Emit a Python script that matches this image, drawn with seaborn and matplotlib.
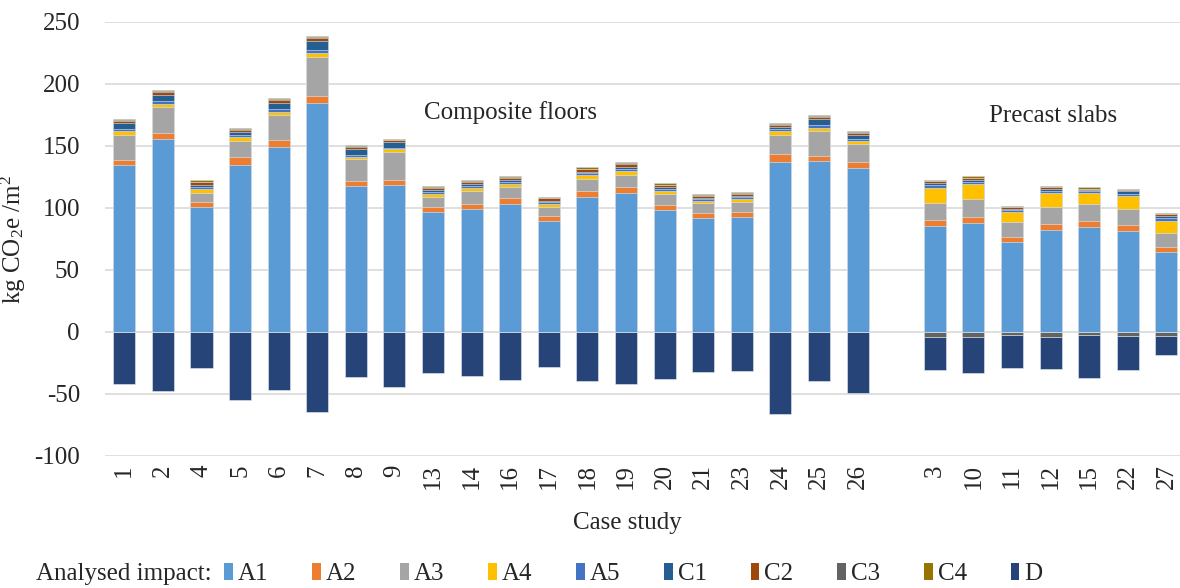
import numpy as np
import pandas as pd
import seaborn as sns
import matplotlib
matplotlib.use("Agg")
import matplotlib.pyplot as plt
from matplotlib.patches import Patch

# Case studies, grouped by floor system
composite_cases = ["1", "2", "4", "5", "6", "7", "8", "9", "13", "14", "16", "17",
                   "18", "19", "20", "21", "23", "24", "25", "26"]
precast_cases = ["3", "10", "11", "12", "15", "22", "27"]
cases = composite_cases + precast_cases

stages = ["A1", "A2", "A3", "A4", "A5", "C1", "C2", "C3", "C4", "D"]
stage_colors = ["#5B9BD5", "#ED7D31", "#A5A5A5", "#FFC000", "#4472C4",
                "#255E91", "#9E480E", "#636363", "#997300", "#264478"]

# kg CO2e/m2 per life-cycle module (composite floors, then precast slabs)
A1 = [134.4, 155.4, 101.1, 134.9, 149.2, 184.7, 118.0, 118.8, 97.0, 99.5, 103.2, 89.8,
      109.1, 111.8, 98.1, 92.2, 93.0, 137.1, 137.7, 132.3,
      85.2, 87.9, 72.3, 82.0, 84.4, 81.2, 64.4]
A2 = [4.3, 4.8, 4.0, 6.2, 5.6, 5.6, 3.5, 3.8, 4.1, 4.0, 4.9, 3.7, 4.6, 5.1, 4.3, 4.0,
      4.0, 6.4, 4.2, 5.1,
      5.1, 5.1, 4.1, 4.8, 4.9, 4.8, 4.3]
A3 = [20.2, 21.0, 7.3, 12.9, 20.0, 31.2, 17.7, 22.6, 8.0, 10.5, 9.1, 7.6, 9.7, 9.7,
      8.9, 7.6, 8.1, 15.6, 19.9, 14.2,
      14.0, 14.5, 12.1, 14.0, 13.7, 13.4, 11.3]
A4 = [2.9, 2.7, 2.9, 3.3, 2.6, 3.2, 2.2, 2.1, 2.4, 2.4, 2.4, 2.1, 3.0, 3.0, 2.4, 1.8,
      2.2, 3.0, 2.7, 2.4,
      12.1, 12.1, 8.5, 11.3, 9.1, 10.3, 9.9]
A5 = [1.9, 2.4, 1.9, 1.8, 2.2, 2.7, 1.6, 0.8, 1.6, 1.6, 1.6, 1.6, 1.6, 2.1, 1.6, 1.4,
      1.6, 1.8, 2.4, 1.9,
      1.9, 1.6, 1.4, 1.8, 1.4, 1.6, 1.9]
C1 = [4.6, 4.6, 1.6, 1.9, 5.3, 7.5, 4.3, 5.4, 1.4, 1.4, 1.4, 1.1, 1.3, 1.4, 1.4, 1.3,
      0.8, 1.4, 4.9, 2.7,
      1.6, 1.4, 1.1, 1.4, 1.0, 2.2, 1.6]
C2 = [1.9, 2.6, 1.9, 1.9, 2.2, 2.5, 1.9, 1.3, 1.9, 1.6, 1.8, 1.9, 1.9, 2.1, 1.6, 1.6,
      1.8, 1.9, 1.8, 2.1,
      1.6, 1.4, 1.1, 1.6, 1.1, 1.3, 1.4]
C3 = [0.6, 0.6, 0.6, 0.6, 0.6, 0.5, 0.5, 0.3, 0.6, 0.6, 0.6, 0.5, 0.6, 0.7, 0.6, 0.6,
      0.6, 0.6, 0.5, 0.6,
      -3.7, -3.7, -2.7, -3.7, -2.7, -3.2, -3.5]
C4 = [0.7, 0.8, 1.0, 1.2, 1.0, 0.8, 0.8, 0.5, 1.0, 1.0, 0.8, 0.8, 1.0, 1.2, 1.0, 1.0,
      1.0, 1.0, 0.7, 1.0,
      1.1, 1.6, 0.8, 1.1, 1.1, 0.8, 0.8]
D = [-42.3, -47.4, -29.4, -55.0, -46.9, -64.7, -35.9, -44.2, -32.9, -35.1, -38.6,
     -28.4, -39.9, -42.3, -37.5, -32.1, -31.6, -66.0, -39.7, -49.1,
     -26.7, -29.3, -26.6, -26.4, -34.7, -27.7, -15.2]

values = np.array([A1, A2, A3, A4, A5, C1, C2, C3, C4, D])

# empty slot separates the two groups
order = composite_cases + [""] + precast_cases

sns.set_theme(style="white")
plt.rcParams["font.family"] = ["Liberation Serif", "DejaVu Serif"]
plt.rcParams["mathtext.fontset"] = "custom"
plt.rcParams["mathtext.rm"] = "Liberation Serif"
plt.rcParams["mathtext.it"] = "Liberation Serif:italic"
plt.rcParams["axes.unicode_minus"] = False

FS = 18

fig = plt.figure(figsize=(11.8, 5.88), dpi=100)
ax = fig.add_axes([105 / 1180, 132 / 588, 1 - 105 / 1180, (566 - 132) / 588])

# stacked bars: positive and negative parts accumulated separately,
# drawn from the outermost layer inwards so inner layers overlay
pos_cum = np.cumsum(np.clip(values, 0, None), axis=0)
neg_cum = np.cumsum(np.clip(values, None, 0), axis=0)
for i in range(len(stages) - 1, -1, -1):
    for cum in (pos_cum[i], neg_cum[i]):
        if not np.any(cum != 0):
            continue
        df = pd.DataFrame({"case": cases, "value": cum})
        sns.barplot(data=df, x="case", y="value", order=order, color=stage_colors[i],
                    saturation=1, width=0.57, errorbar=None,
                    edgecolor="#E4EBF3", linewidth=0.4, ax=ax)

ax.set_xlim(-0.5, 27.35)
ax.set_ylim(-100, 250)
ax.set_yticks(np.arange(-100, 251, 50))
ax.grid(axis="y", color="#D9D9D9", linewidth=1.2)
ax.set_axisbelow(True)
for s in ax.spines.values():
    s.set_visible(False)
ax.tick_params(axis="both", length=0, labelsize=FS)
ax.tick_params(axis="y", pad=18)
ax.tick_params(axis="x", pad=6)
plt.setp(ax.get_xticklabels(), rotation=90, va="top", ha="center")

ax.set_xlabel("")
ax.set_ylabel(r"kg CO$_\mathrm{2}$e /m$^\mathrm{2}$", fontsize=FS)
ax.yaxis.set_label_coords(-0.072, 0.5)
fig.text(627 / 1180, 65 / 588, "Case study", ha="center", va="center", fontsize=FS)

ax.text(10.0, 177, "Composite floors", ha="center", va="center", fontsize=FS)
ax.text(24.07, 174, "Precast slabs", ha="center", va="center", fontsize=FS)

handles = [Patch(facecolor=c, edgecolor="none", label=s)
           for s, c in zip(stages, stage_colors)]
fig.text(36 / 1180, 14 / 588, "Analysed impact:", ha="left", va="center", fontsize=FS)
fig.legend(handles=handles, loc="center left", bbox_to_anchor=(224 / 1180, 14 / 588),
           ncol=10, frameon=False, fontsize=FS, handlelength=0.35, handleheight=0.7,
           handletextpad=0.2, columnspacing=1.75, borderpad=0, borderaxespad=0)

fig.savefig("out.png", dpi=100)
